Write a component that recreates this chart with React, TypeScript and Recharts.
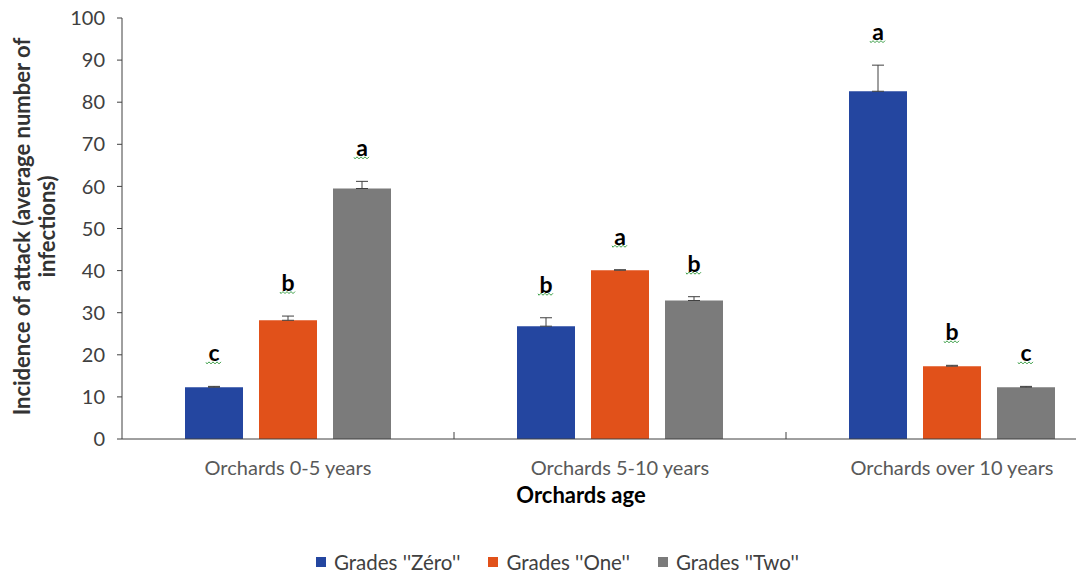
import React from 'react'
import { BarChart, Bar, XAxis, YAxis, ErrorBar, LabelList, Legend, Label } from 'recharts'

const categories = ['Orchards 0-5 years', 'Orchards 5-10 years', 'Orchards over 10 years']

const zeroValues = [12.3, 26.8, 82.6]
const zeroErrors = [0.2, 2.0, 6.2]
const zeroLetters = ['c', 'b', 'a']

const oneValues = [28.2, 40.1, 17.3]
const oneErrors = [1.0, 0.1, 0.2]
const oneLetters = ['b', 'a', 'b']

const twoValues = [59.5, 32.9, 12.3]
const twoErrors = [1.7, 0.9, 0.2]
const twoLetters = ['a', 'b', 'c']

const yTicks = [0, 10, 20, 30, 40, 50, 60, 70, 80, 90, 100]

const series = [
  { key: 'zero', name: 'Grades \'\'Zéro\'\'', color: '#2446a0', values: zeroValues, errors: zeroErrors, letters: zeroLetters },
  { key: 'one', name: 'Grades \'\'One\'\'', color: '#e1511a', values: oneValues, errors: oneErrors, letters: oneLetters },
  { key: 'two', name: 'Grades \'\'Two\'\'', color: '#7b7b7b', values: twoValues, errors: twoErrors, letters: twoLetters },
]

const rows = categories.map((name, i) => {
  const row: Record<string, unknown> = { name }
  series.forEach((s) => {
    row[s.key] = s.values[i]
    row[s.key + 'Err'] = [0, s.errors[i]]
  })
  return row
})

const AXIS = '#404040'
const FONT = 'Lato, "Liberation Sans", sans-serif'

// significance letter above the error bar, with the green spell-check squiggle
const letterLabel = (values: number[], errors: number[], letters: string[]) => (props: any) => {
  const vb = props.viewBox ?? props
  const { x, y, width, height } = vb
  const i = props.index
  if (x == null || i == null) return null
  const perUnit = height / values[i]
  const errTop = y - errors[i] * perUnit
  const cx = x + width / 2
  const ty = errTop - 34
  const sy = errTop - 24
  let d = `M${cx - 8},${sy}`
  for (let k = 0; k < 8; k++) {
    d += ` L${cx - 7 + k * 2},${sy + (k % 2 === 0 ? 1.5 : -0.5)}`
  }
  return (
    <g>
      <text x={cx} y={ty} textAnchor="middle" dominantBaseline="central" fontSize={23} fontWeight={700} fill="#000" fontFamily={FONT}>
        {letters[i]}
      </text>
      <path d={d} stroke="#3c9f48" strokeWidth={1} fill="none" />
    </g>
  )
}

const CategoryTick = (props: any) => {
  const { x, y, payload } = props
  const half = payload?.offset ?? 0
  return (
    <g>
      <line x1={x + half} y1={y} x2={x + half} y2={y - 7} stroke={AXIS} strokeWidth={1} />
      <text x={x} y={y + 28} textAnchor="middle" dominantBaseline="central" fontSize={20} fill="#595959" fontFamily={FONT}>
        {payload.value}
      </text>
    </g>
  )
}

const YTitle = (props: any) => {
  const { viewBox } = props
  const cy = viewBox.y + viewBox.height / 2 - 2
  return (
    <g fontFamily={FONT} fontSize={22} fontWeight={700} fill="#333">
      <text x={21} y={cy} transform={`rotate(-90, 21, ${cy})`} textAnchor="middle" dominantBaseline="central">
        Incidence of attack (average number of
      </text>
      <text x={46} y={cy} transform={`rotate(-90, 46, ${cy})`} textAnchor="middle" dominantBaseline="central">
        infections)
      </text>
    </g>
  )
}

const XTitle = (props: any) => {
  const { viewBox } = props
  const cx = viewBox.x + viewBox.width / 2 - 39
  return (
    <text x={cx} y={viewBox.y + 55} textAnchor="middle" dominantBaseline="central" fontFamily={FONT} fontSize={22} fontWeight={700} fill="#000">
      Orchards age
    </text>
  )
}

const LegendContent = () => (
  <div style={{ display: 'flex', alignItems: 'center', fontFamily: FONT, fontSize: 20.5, color: AXIS, whiteSpace: 'nowrap' }}>
    {series.map((s) => (
      <div key={s.key} style={{ display: 'flex', alignItems: 'center', marginRight: 28 }}>
        <span style={{ display: 'inline-block', width: 10, height: 10, background: s.color, marginRight: 8 }} />
        <span>{s.name}</span>
      </div>
    ))}
  </div>
)

export default function App() {
  return (
    <div style={{ position: 'absolute', left: 0, top: 0, width: 1076, height: 577, overflow: 'hidden', background: '#fff' }}>
      <BarChart
        width={1140}
        height={577}
        data={rows}
        margin={{ top: 18, right: 22, bottom: 68, left: 0 }}
        barGap={16}
        barSize={58}
      >
        <XAxis
          dataKey="name"
          height={70}
          tickLine={false}
          tickSize={0}
          tickMargin={0}
          axisLine={{ stroke: AXIS }}
          tick={<CategoryTick />}
          interval={0}
        >
          <Label content={<XTitle />} />
        </XAxis>
        <YAxis
          width={122}
          domain={[0, 100]}
          ticks={yTicks}
          interval={0}
          tickSize={5}
          tickMargin={12}
          axisLine={{ stroke: AXIS }}
          tickLine={{ stroke: AXIS }}
          tick={{ fill: AXIS, fontSize: 20, fontFamily: FONT }}
        >
          <Label content={<YTitle />} />
        </YAxis>
        <Legend
          verticalAlign="middle"
          align="center"
          layout="horizontal"
          wrapperStyle={{ top: 550, left: 316, width: 'auto' }}
          content={<LegendContent />}
        />
        {series.map((s) => (
          <Bar key={s.key} dataKey={s.key} name={s.name} fill={s.color} isAnimationActive={false}>
            <ErrorBar dataKey={s.key + 'Err'} width={6} stroke={AXIS} strokeWidth={1} direction="y" />
            <LabelList dataKey={s.key} content={letterLabel(s.values, s.errors, s.letters)} />
          </Bar>
        ))}
      </BarChart>
    </div>
  )
}
